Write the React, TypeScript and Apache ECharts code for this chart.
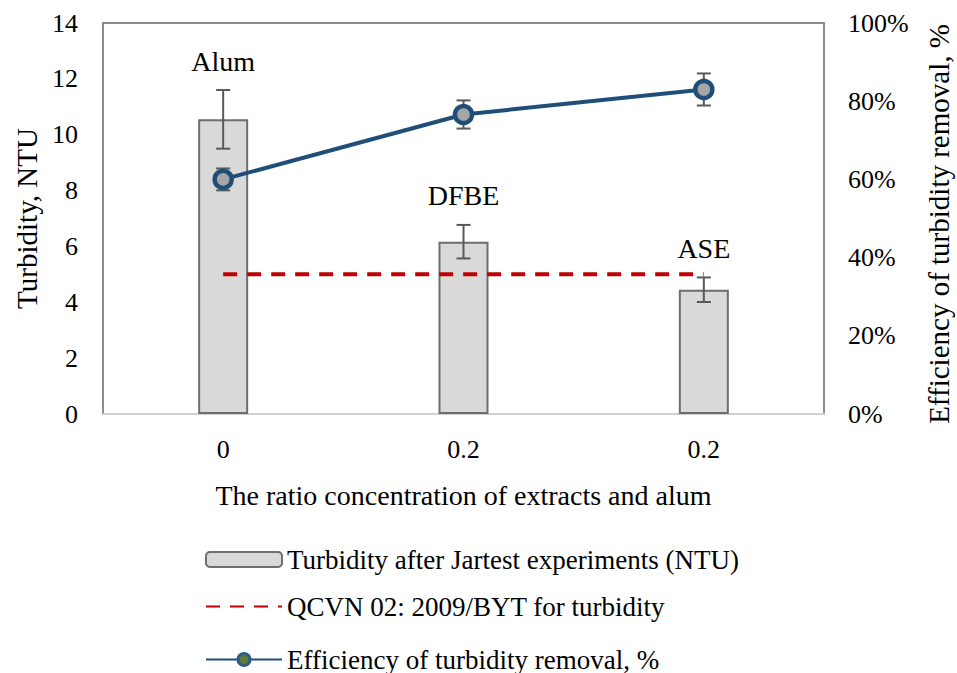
import React, { useEffect, useRef } from "react";
import * as echarts from "echarts";

const categories = ["0", "0.2", "0.2"];
const sampleNames = ["Alum", "DFBE", "ASE"];
const turbidity = [10.55, 6.17, 4.45];
const turbidityErr = [1.05, 0.6, 0.44];
const standardLimit = [5, 5, 5];
const efficiency = [60.0, 76.6, 83.0];
const efficiencyErr = [2.8, 3.6, 4.1];
const leftTicks = { min: 0, max: 14, interval: 2 };
const rightTicks = { min: 0, max: 100, interval: 20 };
const legendNames = [
  "Turbidity after Jartest experiments (NTU)",
  "QCVN 02: 2009/BYT for turbidity",
  "Efficiency of turbidity removal, %",
];

const FONT = "'Liberation Serif', 'Times New Roman', 'DejaVu Serif', serif";

export default function App() {
  const ref = useRef<HTMLDivElement>(null);
  useEffect(() => {
    document.body.style.margin = "0";
    document.body.style.overflow = "hidden";
    if (!ref.current) return;
    const chart = echarts.init(ref.current, undefined, { renderer: "svg" });
    const barErrData = turbidity.map((v, i) => [i, v - turbidityErr[i], v + turbidityErr[i]]);
    const effErrData = efficiency.map((v, i) => [i, v - efficiencyErr[i], v + efficiencyErr[i]]);
    const errRender = (withLabel: boolean) => (params: any, api: any) => {
      const idx = api.value(0);
      const lo = api.coord([idx, api.value(1)]);
      const hi = api.coord([idx, api.value(2)]);
      const cap = 7;
      const style = { stroke: "#595959", lineWidth: 2 };
      const children: any[] = [
        { type: "line", shape: { x1: hi[0], y1: hi[1], x2: lo[0], y2: lo[1] }, style },
        { type: "line", shape: { x1: hi[0] - cap, y1: hi[1], x2: hi[0] + cap, y2: hi[1] }, style },
        { type: "line", shape: { x1: lo[0] - cap, y1: lo[1], x2: lo[0] + cap, y2: lo[1] }, style },
      ];
      if (withLabel) {
        children.push({
          type: "text",
          x: hi[0],
          y: hi[1] - 29,
          style: {
            text: sampleNames[idx],
            fontFamily: FONT,
            fontSize: 28,
            fill: "#000",
            align: "center",
            verticalAlign: "middle",
            textAlign: "center",
            textVerticalAlign: "middle",
          },
        });
      }
      return { type: "group", children };
    };
    const legendTops = [541, 588, 641];
    const legendItemStyles: any[] = [
      undefined,
      { opacity: 0 },
      { color: "#5f7a3a", borderColor: "#2e5c8a", borderWidth: 3 },
    ];
    const legends = legendNames.map((n, i) => ({
      orient: "vertical",
      left: 200,
      top: legendTops[i],
      itemWidth: 76,
      itemHeight: 15,
      textStyle: { fontFamily: FONT, fontSize: 27, color: "#000" },
      data: [legendItemStyles[i] ? { name: n, itemStyle: legendItemStyles[i] } : { name: n }],
    }));
    chart.setOption({
      animation: false,
      textStyle: { fontFamily: FONT, color: "#000" },
      grid: {
        left: 103,
        right: 133,
        top: 23,
        bottom: 259,
        show: true,
        borderColor: "#8c8c8c",
        borderWidth: 2,
        backgroundColor: "transparent",
      },
      legend: legends,
      graphic: [
        {
          type: "text",
          x: 939,
          y: 224,
          rotation: Math.PI / 2,
          style: {
            text: "Efficiency of turbidity removal, %",
            fontFamily: FONT,
            fontSize: 29,
            fill: "#000",
            align: "center",
            verticalAlign: "middle",
            textAlign: "center",
            textVerticalAlign: "middle",
          },
        },
      ],
      xAxis: {
        type: "category",
        data: categories,
        boundaryGap: true,
        axisLine: { show: true, lineStyle: { color: "#d0d0d0", width: 2 } },
        axisTick: { show: false },
        axisLabel: { fontFamily: FONT, fontSize: 26, color: "#000", margin: 22 },
        name: "The ratio concentration of extracts and alum",
        nameLocation: "middle",
        nameGap: 67,
        nameTextStyle: { fontFamily: FONT, fontSize: 28, color: "#000" },
      },
      yAxis: [
        {
          type: "value",
          ...leftTicks,
          axisLine: { show: false },
          axisTick: { show: false },
          splitLine: { show: false },
          axisLabel: { fontFamily: FONT, fontSize: 26, color: "#000", margin: 25 },
          name: "Turbidity, NTU",
          nameLocation: "middle",
          nameGap: 60,
          nameTextStyle: { fontFamily: FONT, fontSize: 29, color: "#000" },
        },
        {
          type: "value",
          ...rightTicks,
          position: "right",
          axisLine: { show: false },
          axisTick: { show: false },
          splitLine: { show: false },
          axisLabel: { fontFamily: FONT, fontSize: 26, color: "#000", margin: 24, formatter: "{value}%" },
        },
      ],
      series: [
        {
          name: legendNames[0],
          type: "bar",
          yAxisIndex: 0,
          data: turbidity,
          barWidth: 50,
          itemStyle: { color: "#d9d9d9", borderColor: "#6e6e6e", borderWidth: 2 },
          z: 2,
        },
        {
          name: "barErr",
          type: "custom",
          yAxisIndex: 0,
          data: barErrData,
          encode: { x: 0, y: [1, 2] },
          renderItem: errRender(true),
          z: 3,
        },
        {
          name: "effErr",
          type: "custom",
          yAxisIndex: 1,
          data: effErrData,
          encode: { x: 0, y: [1, 2] },
          renderItem: errRender(false),
          z: 3,
        },
        {
          name: legendNames[1],
          type: "line",
          yAxisIndex: 0,
          data: standardLimit,
          symbol: "none",
          lineStyle: { color: "#c00000", width: 4, type: [14, 10] },
          itemStyle: { color: "#c00000" },
          z: 4,
        },
        {
          name: legendNames[2],
          type: "line",
          yAxisIndex: 1,
          data: efficiency,
          symbol: "circle",
          symbolSize: 17,
          lineStyle: { color: "#1f4e79", width: 4 },
          itemStyle: { color: "#a6a6a6", borderColor: "#1f4e79", borderWidth: 4.5 },
          z: 5,
        },
      ],
    });
    return () => chart.dispose();
  }, []);
  return <div ref={ref} style={{ width: 957, height: 673 }} />;
}
